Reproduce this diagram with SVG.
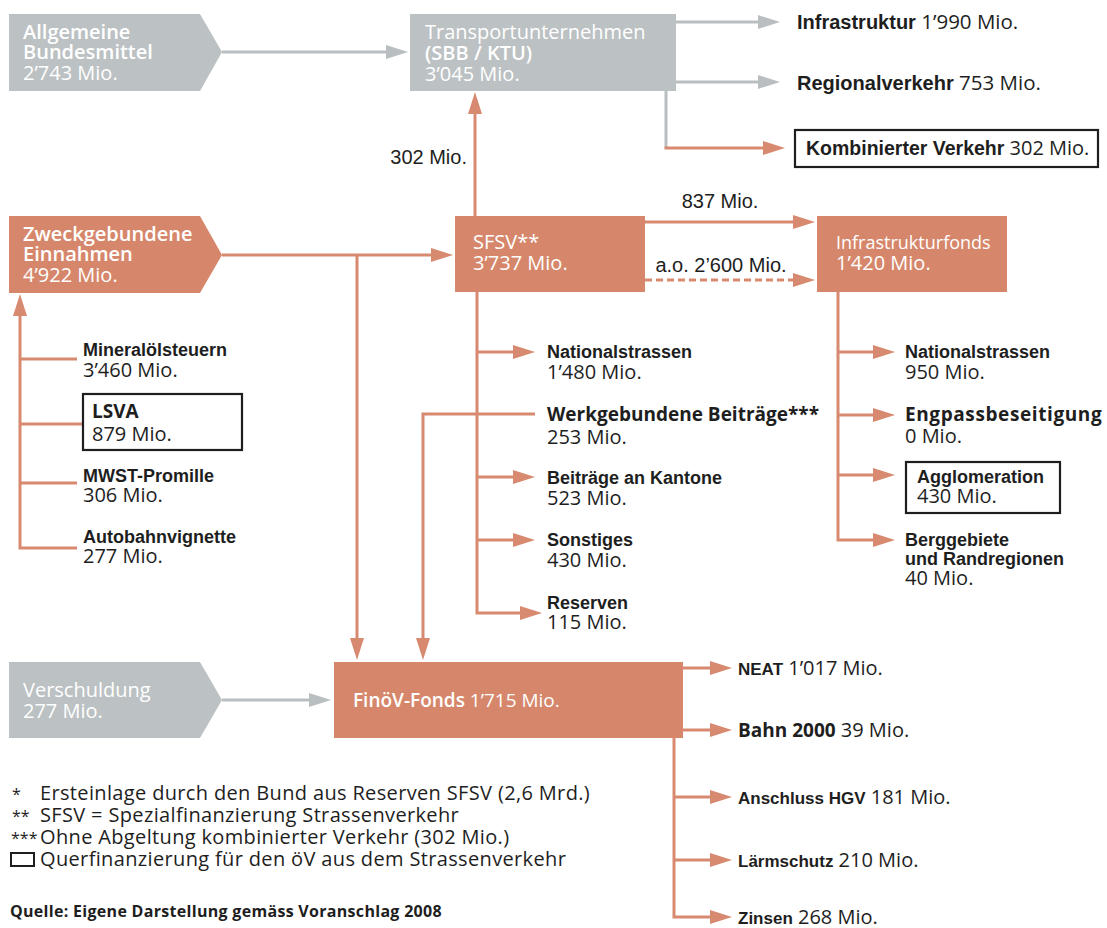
<svg xmlns="http://www.w3.org/2000/svg" width="1107" height="928" viewBox="0 0 1107 928">
<style>
.og{fill:#d6876b}
.gy{fill:#bcc1c3}
.wt{font-family:"Open Sans","Liberation Sans",sans-serif;font-size:18px;fill:#ffffff}
.w20{font-size:20px}
.wb{font-weight:600}
.lb{font-family:"Liberation Sans",Arial,sans-serif;font-weight:bold;font-size:18px;fill:#1e1e1e}
.lc{font-family:"Liberation Sans",Arial,sans-serif;font-size:20px;fill:#1e1e1e}
.nm{font-family:"Open Sans","Liberation Sans",sans-serif;font-size:20px;fill:#1e1e1e}
.nb{font-family:"Open Sans","Liberation Sans",sans-serif;font-weight:bold;font-size:19px;fill:#1e1e1e}
.lg{font-family:"Open Sans","Liberation Sans",sans-serif;font-size:20px;letter-spacing:0.35px;fill:#1e1e1e}
.st{font-size:16px;letter-spacing:0}
.tr{font-size:20px}
.frame{fill:#ffffff;stroke:#1e1e1e;stroke-width:2.2}
.co{fill:none;stroke:#d88a70;stroke-width:3}
.cg{fill:none;stroke:#b9bec0;stroke-width:3}
.ao{marker-end:url(#ma)}
.ag{marker-end:url(#mg)}
</style>
<defs>
<marker id="ma" markerUnits="userSpaceOnUse" markerWidth="22" markerHeight="14" refX="10" refY="7" orient="auto"><path d="M0,0 L22,7 L0,14 z" fill="#d88a70"/></marker>
<marker id="mg" markerUnits="userSpaceOnUse" markerWidth="22" markerHeight="14" refX="10" refY="7" orient="auto"><path d="M0,0 L22,7 L0,14 z" fill="#b9bec0"/></marker>
</defs>

<g id="connectors">
<path class="cg ag" d="M222,52 H396"/>
<path class="cg ag" d="M676,22 H768"/>
<path class="cg ag" d="M676,82 H768"/>
<path class="cg" d="M666,91 V148"/>
<path class="co ao" d="M664.5,148 H773"/>
<path class="co ao" d="M475,216 V104"/>
<path class="co ao" d="M222,255 H441"/>
<path class="co ao" d="M357,255 V648"/>
<path class="co ao" d="M645,222 H803"/>
<path class="co ao" d="M645,280 H803" stroke-dasharray="7 4"/>
<path class="co ao" d="M477,292 V613 H530"/>
<path class="co ao" d="M477,352 H523"/>
<path class="co ao" d="M477,477 H523"/>
<path class="co ao" d="M477,540 H523"/>
<path class="co ao" d="M535,414 H423 V648"/>
<path class="co ao" d="M838,292 V540 H883"/>
<path class="co ao" d="M838,352 H883"/>
<path class="co ao" d="M838,415 H883"/>
<path class="co ao" d="M838,475 H883"/>
<path class="co ao" d="M77,548 H20 V306"/>
<path class="co" d="M20,359 H77"/>
<path class="co" d="M20,424 H83"/>
<path class="co" d="M20,483 H77"/>
<path class="cg ag" d="M222,700 H319"/>
<path class="co ao" d="M683,668 H720"/>
<path class="co ao" d="M683,730 H720"/>
<path class="co ao" d="M674,738 V917 H720"/>
<path class="co ao" d="M674,797 H720"/>
<path class="co ao" d="M674,860 H720"/>
<text class="lc" x="467" y="164" text-anchor="end">302 Mio.</text>
<text class="lc" x="720" y="208" text-anchor="middle">837 Mio.</text>
<text class="lc" x="721" y="272" text-anchor="middle">a.o. 2’600 Mio.</text>
</g>

<g id="n-allgemeine">
<polygon class="gy" points="9,14 200,14 222,52 200,91 9,91"/>
<text class="wt w20" x="23" y="39"><tspan class="wb">Allgemeine</tspan><tspan class="wb" x="23" dy="20">Bundesmittel</tspan><tspan x="23" dy="21">2’743 Mio.</tspan></text>
</g>

<g id="n-transport">
<rect class="gy" x="410" y="14" width="266" height="77"/>
<text class="wt w20" x="425" y="39">Transportunternehmen<tspan class="wb" x="425" dy="21">(SBB / KTU)</tspan><tspan x="425" dy="21">3’045 Mio.</tspan></text>
</g>

<g id="n-infrastruktur">
<text x="797" y="29"><tspan class="lb tr">Infrastruktur</tspan><tspan class="nm" style="font-size:20.5px"> 1’990 Mio.</tspan></text>
</g>
<g id="n-regional">
<text x="797" y="90"><tspan class="lb tr">Regionalverkehr</tspan><tspan class="nm" style="font-size:20.5px"> 753 Mio.</tspan></text>
</g>
<g id="n-kombiniert">
<rect class="frame" x="795" y="130" width="303" height="37"/>
<text x="806" y="155"><tspan class="lb" style="font-size:19.5px">Kombinierter Verkehr</tspan><tspan class="nm"> 302 Mio.</tspan></text>
</g>

<g id="n-zweck">
<polygon class="og" points="9,216 200,216 222,255 200,293 9,293"/>
<text class="wt w20" x="23" y="241"><tspan class="wb">Zweckgebundene</tspan><tspan class="wb" x="23" dy="20">Einnahmen</tspan><tspan x="23" dy="21">4’922 Mio.</tspan></text>
</g>

<g id="n-sfsv">
<rect class="og" x="455" y="216" width="190" height="76"/>
<text class="wt w20" x="473" y="249">SFSV**<tspan x="473" dy="21">3’737 Mio.</tspan></text>
</g>

<g id="n-infrafonds">
<rect class="og" x="817" y="216" width="190" height="76"/>
<text class="wt" x="836" y="249">Infrastrukturfonds<tspan class="w20" x="836" dy="21">1’420 Mio.</tspan></text>
</g>

<g id="n-mineraloel">
<text x="83" y="356"><tspan class="lb">Mineralölsteuern</tspan><tspan class="nm" x="83" dy="21">3’460 Mio.</tspan></text>
</g>
<g id="n-lsva">
<rect class="frame" x="83" y="394" width="159" height="56"/>
<text x="92" y="418"><tspan class="nb">LSVA</tspan><tspan class="nm" x="92" dy="23">879 Mio.</tspan></text>
</g>
<g id="n-mwst">
<text x="83" y="482"><tspan class="lb">MWST-Promille</tspan><tspan class="nm" x="83" dy="20">306 Mio.</tspan></text>
</g>
<g id="n-vignette">
<text x="83" y="543"><tspan class="lb">Autobahnvignette</tspan><tspan class="nm" x="83" dy="20">277 Mio.</tspan></text>
</g>

<g id="n-nat1">
<text x="547" y="358"><tspan class="lb">Nationalstrassen</tspan><tspan class="nm" x="547" dy="21">1’480 Mio.</tspan></text>
</g>
<g id="n-werk">
<text x="547" y="421"><tspan class="nb">Werkgebundene Beiträge***</tspan><tspan class="nm" x="547" dy="23">253 Mio.</tspan></text>
</g>
<g id="n-kantone">
<text x="547" y="484"><tspan class="lb">Beiträge an Kantone</tspan><tspan class="nm" x="547" dy="21">523 Mio.</tspan></text>
</g>
<g id="n-sonstiges">
<text x="547" y="546"><tspan class="lb">Sonstiges</tspan><tspan class="nm" x="547" dy="21">430 Mio.</tspan></text>
</g>
<g id="n-reserven">
<text x="547" y="609"><tspan class="lb">Reserven</tspan><tspan class="nm" x="547" dy="20">115 Mio.</tspan></text>
</g>

<g id="n-nat2">
<text x="905" y="358"><tspan class="lb">Nationalstrassen</tspan><tspan class="nm" x="905" dy="21">950 Mio.</tspan></text>
</g>
<g id="n-engpass">
<text x="905" y="421"><tspan class="nb" style="letter-spacing:0.6px">Engpassbeseitigung</tspan><tspan class="nm" x="905" dy="22">0 Mio.</tspan></text>
</g>
<g id="n-agglo">
<rect class="frame" x="906" y="462" width="154" height="51"/>
<text x="917" y="483"><tspan class="lb">Agglomeration</tspan><tspan class="nm" x="917" dy="20">430 Mio.</tspan></text>
</g>
<g id="n-berg">
<text x="905" y="546"><tspan class="lb">Berggebiete</tspan><tspan class="lb" x="905" dy="19">und Randregionen</tspan><tspan class="nm" x="905" dy="20">40 Mio.</tspan></text>
</g>

<g id="n-verschuldung">
<polygon class="gy" points="9,662 200,662 222,700 200,738 9,738"/>
<text class="wt w20" x="23" y="697">Verschuldung<tspan x="23" dy="21">277 Mio.</tspan></text>
</g>

<g id="n-finoev">
<rect class="og" x="334" y="662" width="349" height="76"/>
<text class="wt" x="353" y="707" style="font-size:19px"><tspan font-weight="600">FinöV-Fonds</tspan> 1’715 Mio.</text>
</g>

<g id="n-neat"><text x="738" y="675"><tspan class="lb" style="font-size:17px">NEAT</tspan><tspan class="nm"> 1’017 Mio.</tspan></text></g>
<g id="n-bahn"><text x="738" y="737"><tspan class="nb">Bahn 2000</tspan><tspan class="nm"> 39 Mio.</tspan></text></g>
<g id="n-hgv"><text x="738" y="804"><tspan class="lb" style="font-size:17px">Anschluss HGV</tspan><tspan class="nm"> 181 Mio.</tspan></text></g>
<g id="n-laerm"><text x="738" y="867"><tspan class="lb" style="font-size:17px">Lärmschutz</tspan><tspan class="nm"> 210 Mio.</tspan></text></g>
<g id="n-zinsen"><text x="738" y="924"><tspan class="lb" style="font-size:17px">Zinsen</tspan><tspan class="nm"> 268 Mio.</tspan></text></g>

<g id="legend">
<text class="lg"><tspan class="st" x="12" y="800">*</tspan><tspan x="40">Ersteinlage durch den Bund aus Reserven SFSV (2,6 Mrd.)</tspan><tspan class="st" x="12" dy="22">**</tspan><tspan x="40">SFSV = Spezialfinanzierung Strassenverkehr</tspan><tspan class="st" x="11" dy="22">***</tspan><tspan x="40">Ohne Abgeltung kombinierter Verkehr (302 Mio.)</tspan><tspan x="40" dy="22">Querfinanzierung für den öV aus dem Strassenverkehr</tspan></text>
<rect x="11" y="853" width="23" height="13" fill="none" stroke="#1e1e1e" stroke-width="2"/>
<text class="nb" x="10" y="917" style="font-size:16px;letter-spacing:0.3px">Quelle: Eigene Darstellung gemäss Voranschlag 2008</text>
</g>
</svg>
